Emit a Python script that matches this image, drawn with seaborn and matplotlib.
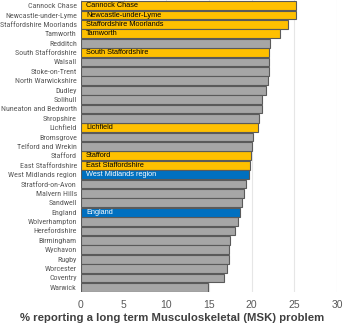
import matplotlib
matplotlib.use("Agg")
import matplotlib.pyplot as plt
import seaborn as sns
import pandas as pd
from matplotlib import font_manager

areas = ["Cannock Chase", "Newcastle-under-Lyme", "Staffordshire Moorlands", "Tamworth",
         "Redditch", "South Staffordshire", "Walsall", "Stoke-on-Trent", "North Warwickshire",
         "Dudley", "Solihull", "Nuneaton and Bedworth", "Shropshire", "Lichfield", "Bromsgrove",
         "Telford and Wrekin", "Stafford", "East Staffordshire", "West Midlands region",
         "Stratford-on-Avon", "Malvern Hills", "Sandwell", "England", "Wolverhampton",
         "Herefordshire", "Birmingham", "Wychavon", "Rugby", "Worcester", "Coventry", "Warwick"]
values = [25.2, 25.15, 24.3, 23.3, 22.2, 22.0, 22.0, 22.0, 21.95, 21.7, 21.2, 21.2, 20.9,
          20.7, 20.15, 20.0, 19.9, 19.75, 19.7, 19.35, 19.1, 18.85, 18.6, 18.45, 18.0,
          17.5, 17.4, 17.3, 17.1, 16.7, 14.9]
staffs = ["Cannock Chase", "Newcastle-under-Lyme", "Staffordshire Moorlands", "Tamworth",
          "South Staffordshire", "Lichfield", "Stafford", "East Staffordshire"]
comparators = ["West Midlands region", "England"]
xticks = [0, 5, 10, 15, 20, 25, 30]
xlabel = "% reporting a long term Musculoskeletal (MSK) problem"

def group(a):
    if a in staffs:
        return "staffs"
    if a in comparators:
        return "comp"
    return "other"

df = pd.DataFrame({"area": areas, "value": values})
df["group"] = df["area"].map(group)
palette = {"staffs": "#FFC000", "comp": "#0070C0", "other": "#A6A6A6"}

names = {f.name for f in font_manager.fontManager.ttflist}
narrow = None
for cand in ["Liberation Sans Narrow", "DejaVu Sans Condensed", "Roboto Condensed",
             "Open Sans Condensed"]:
    if cand in names:
        narrow = cand
        break

plt.rcParams["font.family"] = ["Liberation Sans", "DejaVu Sans"]
fig = plt.figure(figsize=(3.44, 3.24), dpi=100)
ax = fig.add_axes([81/344, 1 - 292/324, (337-81)/344, 292/324])

sns.barplot(data=df, y="area", x="value", hue="group", palette=palette, dodge=False,
            orient="h", width=0.94, edgecolor="#5a5a5a", linewidth=0.8, legend=False, ax=ax,
            order=areas, saturation=1)

for i, (a, g) in enumerate(zip(areas, df["group"])):
    if g != "other":
        ax.text(0.6, i, a, va="center", ha="left", fontsize=5.3,
                color="white" if g == "comp" else "black")

ax.set_xlim(0, 30)
ax.set_ylim(len(areas) - 0.5, -0.6)
ax.set_xticks(xticks)
ax.set_xticklabels([str(t) for t in xticks], fontsize=7.5, color="#595959")
yfam = [narrow, "DejaVu Sans"] if narrow else ["Liberation Sans", "DejaVu Sans"]
ysize = 5.8 if narrow else 4.9
for lab in ax.get_yticklabels():
    lab.set_fontfamily(yfam)
    lab.set_fontsize(ysize)
    lab.set_color("#595959")
ax.tick_params(axis="y", length=0, pad=3)
ax.tick_params(axis="x", length=0, pad=6)
ax.set_ylabel("")
ax.set_xlabel("")
fig.text(172/344, 1 - 318/324, xlabel, fontsize=8.2, fontweight="bold", color="#404040",
         ha="center", va="center")
ax.xaxis.grid(True, color="#e6e6e6", linewidth=0.8)
ax.set_axisbelow(True)
for s in ["top", "right", "bottom", "left"]:
    ax.spines[s].set_visible(False)

fig.savefig("out.png", dpi=100)
